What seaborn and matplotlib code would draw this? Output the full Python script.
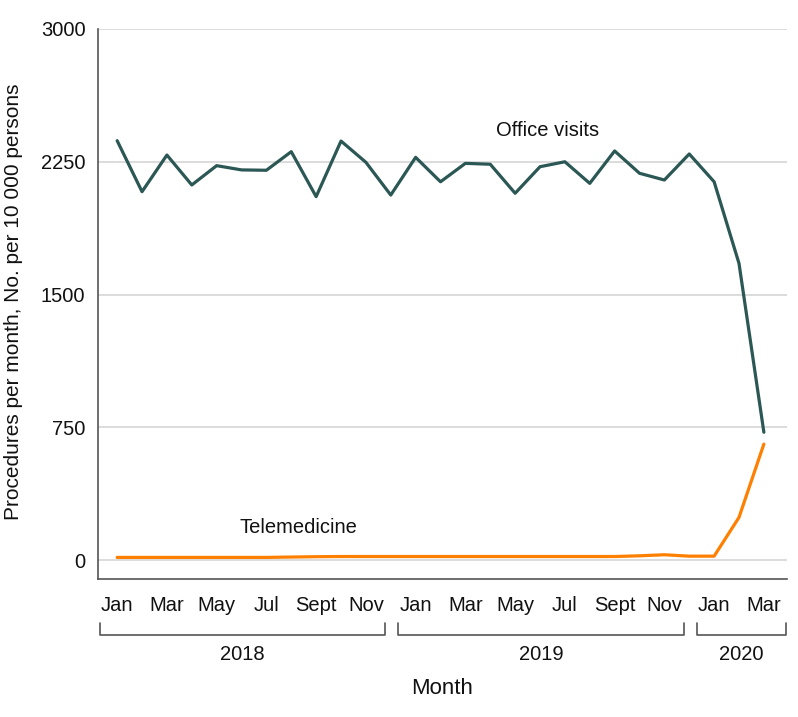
import matplotlib
matplotlib.use("Agg")
import matplotlib.pyplot as plt
import seaborn as sns
import pandas as pd
import numpy as np

months = ["Jan", "Feb", "Mar", "Apr", "May", "Jun", "Jul", "Aug", "Sept", "Oct", "Nov", "Dec"] * 2 + ["Jan", "Feb", "Mar"]
years = [2018] * 12 + [2019] * 12 + [2020] * 3

office_visits = [2369, 2081, 2288, 2119, 2228, 2204, 2202, 2307, 2053, 2367, 2247, 2062,
                 2275, 2137, 2241, 2236, 2072, 2222, 2250, 2128, 2311, 2185, 2147, 2294,
                 2137, 1676, 722]
telemedicine = [15, 15, 15, 15, 15, 15, 15, 17, 19, 20, 20, 20,
                20, 20, 20, 20, 20, 20, 20, 20, 20, 24, 30, 22,
                22, 241, 655]

year_labels = ["2018", "2019", "2020"]
y_ticks = [0, 750, 1500, 2250, 3000]

idx = np.arange(len(months))
df = pd.DataFrame({
    "idx": np.concatenate([idx, idx]),
    "value": office_visits + telemedicine,
    "series": ["Office visits"] * len(idx) + ["Telemedicine"] * len(idx),
})

sns.set_theme(style="white")
plt.rcParams["font.family"] = ["Liberation Sans", "DejaVu Sans"]

fig = plt.figure(figsize=(7.98, 7.17), dpi=100)
ax = fig.add_axes([98 / 798, 1 - 579 / 717, (787 - 98) / 798, (579 - 29) / 717])

sns.lineplot(data=df, x="idx", y="value", hue="series",
             palette={"Office visits": "#2B5754", "Telemedicine": "#FF8000"},
             linewidth=2.3, legend=False, ax=ax)

ax.set_xlim(-0.77, 26.93)
ax.set_ylim(-107, 3000)
ax.set_yticks(y_ticks)
ax.set_yticklabels([str(v) for v in y_ticks])
ax.yaxis.grid(True, color="#d9d9d9", linewidth=1.3)
ax.set_axisbelow(True)

tick_pos = idx[::2]
ax.set_xticks(tick_pos)
ax.set_xticklabels([months[i] for i in tick_pos])

for s in ["top", "right"]:
    ax.spines[s].set_visible(False)
for s in ["left", "bottom"]:
    ax.spines[s].set_color("#555555")
    ax.spines[s].set_linewidth(1.2)

ax.tick_params(axis="both", which="both", direction="out", length=5, width=1.1,
               color="#555555", labelsize=14.5, labelcolor="#111111")
ax.tick_params(axis="x", pad=7)
ax.tick_params(axis="y", pad=4)

ax.set_xlabel("Month", fontsize=16, color="#111111", va="center")
ax.xaxis.set_label_coords(0.5, -(688 - 579) / 550)
ax.set_ylabel("Procedures per month, No. per 10 000 persons", fontsize=15, color="#111111", va="center")
ax.yaxis.set_label_coords(-(98 - 14) / 689, 0.505)

# year brackets
trans = ax.get_xaxis_transform()
year_arr = np.array(years)
for k, yl in enumerate(year_labels):
    sel = idx[year_arr == int(yl)]
    x0 = sel[0] - 0.7
    x1 = sel[-1] - 0.22 if k < len(year_labels) - 1 else 26.88
    ax.plot([x0, x0, x1, x1], [-0.08, -0.102, -0.102, -0.08], transform=trans,
            color="#555555", linewidth=1.2, clip_on=False)
    ax.text((x0 + x1) / 2, -0.138, yl, transform=trans, ha="center", va="center",
            fontsize=14.5, color="#111111")

ax.text(17.3, 2424, "Office visits", ha="center", va="center", fontsize=14.5, color="#111111")
ax.text(7.27, 186, "Telemedicine", ha="center", va="center", fontsize=14.5, color="#111111")

fig.savefig("out.png", dpi=100)
